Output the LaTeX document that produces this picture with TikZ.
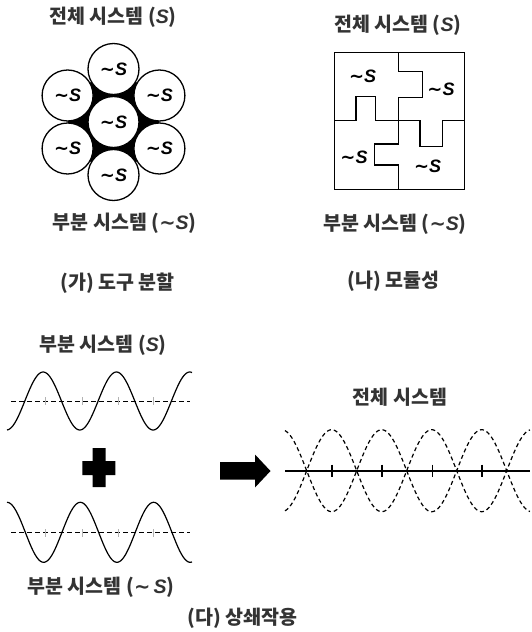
\documentclass[tikz,border=0pt]{standalone}
\usepackage{fontspec}
\setmainfont{Noto Sans CJK KR}
\newfontfamily\Sfont{Liberation Sans}
\newfontfamily\Tfont{DejaVu Sans}
\newcommand{\myS}{{\Sfont\bfseries\itshape S}}
\newcommand{\myT}{{\Tfont\bfseries\textasciitilde}}
\newcommand{\nS}{\myT\myS}
\tikzset{
  lbl/.style={font=\fontsize{19.5}{22}\selectfont\bfseries, inner sep=0pt, text=black!80},
  cir/.style={circle, draw, line width=1.3pt, fill=white, minimum size=51pt, inner sep=0pt, font=\fontsize{18}{20}\selectfont},
  pz/.style={line width=1.3pt},
  wave/.style={line width=1.2pt, smooth},
  mid/.style={line width=1pt, dash pattern=on 5pt off 3pt},
  dwave/.style={line width=1.2pt, dash pattern=on 4pt off 3pt, smooth},
  pzl/.style={font=\fontsize{18}{20}\selectfont, inner sep=0pt}
}
\begin{document}
\begin{tikzpicture}[x=1pt,y=-1pt]
\useasboundingbox (0,0) rectangle (532,632);
% ---------- (ga)
\node[lbl] (t1) at (113,17) {전체 시스템 (\myS)};
\fill[black] (67.6,95.5) -- (113.5,69) -- (159.4,95.5) -- (159.4,148.5) -- (113.5,175) -- (67.6,148.5) -- cycle;
\node[cir] (c0) at (113.5,122) {\nS};
\node[cir] (c1) at (113.5,69) {\nS};
\node[cir] (c2) at (67.6,95.5) {\nS};
\node[cir] (c3) at (159.4,95.5) {\nS};
\node[cir] (c4) at (67.6,148.5) {\nS};
\node[cir] (c5) at (159.4,148.5) {\nS};
\node[cir] (c6) at (113.5,175) {\nS};
\node[lbl] (b1) at (124.7,223) {부분 시스템 (\nS)};
\node[lbl] (cap1) at (117.5,283) {(가) 도구 분할};
% ---------- (na)
\node[lbl] (t2) at (397.7,25) {전체 시스템 (\myS)};
\draw[pz] (334.3,52.7) rectangle (464.3,189.3);
\draw[pz] (398.7,52.7) -- (398.7,71.7) -- (422.7,71.7) -- (422.7,97.3) -- (398.7,97.3) -- (398.7,120.7)
  -- (398.7,144) -- (374.3,144) -- (374.3,165) -- (398.7,165) -- (398.7,189.3);
\draw[pz] (334.3,120.7) -- (356,120.7) -- (356,96.7) -- (375.3,96.7) -- (375.3,120.7) -- (398.7,120.7)
  -- (420,120.7) -- (420,146.7) -- (442.7,146.7) -- (442.7,120.7) -- (464.3,120.7);
\node[pzl] (p1) at (362.7,76.5) {\nS};
\node[pzl] (p2) at (441,89) {\nS};
\node[pzl] (p3) at (354,157) {\nS};
\node[pzl] (p4) at (427.7,166.5) {\nS};
\node[lbl] (b2) at (395,224) {부분 시스템 (\nS)};
\node[lbl] (cap2) at (393.5,281) {(나) 모듈성};
% ---------- (da)
\node[lbl] (t3) at (103,345) {부분 시스템 (\myS)};
\draw[mid] (11,401) -- (190,401);
\foreach \xx in {45,82,118,153} \draw[black!30, line width=0.6pt] (\xx,397) -- (\xx,405);
\draw[wave] plot[domain=7:192, samples=160] (\x, {401 + 29*cos(4.9113*(\x-6.5))});
\fill[black] (92.5,448) rectangle (105.5,487) (82.3,461) rectangle (115.3,475);
\draw[mid] (11,532.7) -- (190,532.7);
\foreach \xx in {45,82,118,153} \draw[black!30, line width=0.6pt] (\xx,529) -- (\xx,537);
\draw[wave] plot[domain=7:192, samples=160] (\x, {532.3 - 30*cos(4.9113*(\x-7))});
\node[lbl] (b3) at (101,587) {부분 시스템 (\myT\,\myS)};
\node[lbl] (cap3) at (242.5,618) {(다) 상쇄작용};
\fill[black] (220,462) -- (255,462) -- (255,454.5) -- (270.5,471) -- (255,487.5) -- (255,479.5) -- (220,479.5) -- cycle;
\node[lbl] (t4) at (400,397) {전체 시스템};
\draw[line width=1.6pt] (285,470.7) -- (530,470.7);
\foreach \xx in {331.7,381.7,432.3,481.7} \draw[line width=1.6pt] (\xx,464.5) -- (\xx,477);
\draw[dwave] plot[domain=285:530, samples=200] (\x, {470.7 + 41*cos(3.6*(\x-281.7))});
\draw[dwave] plot[domain=285:530, samples=200] (\x, {470.7 - 41*cos(3.6*(\x-281.7))});
\end{tikzpicture}
\end{document}
